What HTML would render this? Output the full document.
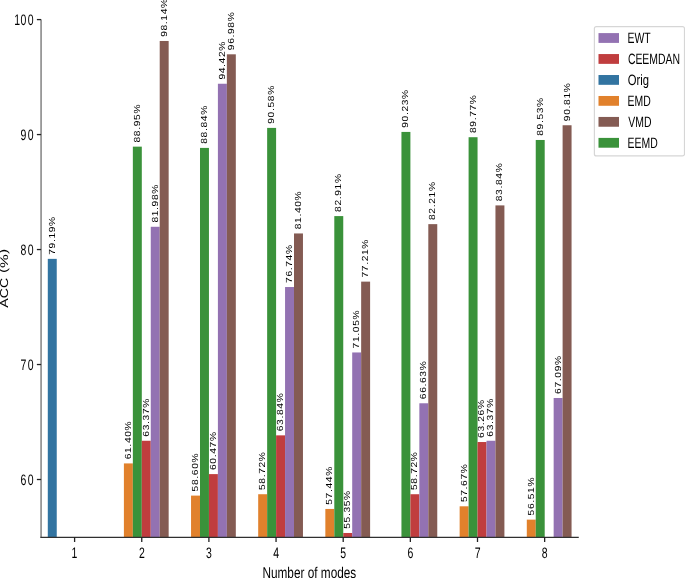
<!DOCTYPE html><html><head><meta charset="utf-8"><style>html,body{margin:0;padding:0;background:#fff;overflow:hidden}svg{display:block}text{font-family:"Liberation Sans",sans-serif;fill:#000;text-rendering:geometricPrecision}svg{will-change:transform}</style></head><body>
<svg width="685" height="578" viewBox="0 0 685 578">
<rect width="685" height="578" fill="#fff"/>
<rect x="47.79" y="258.863" width="8.953" height="278.137" fill="#3274a1"/>
<rect x="123.893" y="463.413" width="8.953" height="73.587" fill="#e1812c"/>
<rect x="132.847" y="146.643" width="8.953" height="390.357" fill="#3a923a"/>
<rect x="141.8" y="440.762" width="8.953" height="96.238" fill="#c03d3e"/>
<rect x="150.753" y="226.784" width="8.953" height="310.216" fill="#9372b2"/>
<rect x="159.707" y="40.976" width="8.953" height="496.024" fill="#845b53"/>
<rect x="191.043" y="495.607" width="8.953" height="41.393" fill="#e1812c"/>
<rect x="199.997" y="147.908" width="8.953" height="389.092" fill="#3a923a"/>
<rect x="208.95" y="474.106" width="8.953" height="62.894" fill="#c03d3e"/>
<rect x="217.903" y="83.749" width="8.953" height="453.251" fill="#9372b2"/>
<rect x="226.857" y="54.314" width="8.953" height="482.686" fill="#845b53"/>
<rect x="258.193" y="494.227" width="8.953" height="42.773" fill="#e1812c"/>
<rect x="267.147" y="127.901" width="8.953" height="409.099" fill="#3a923a"/>
<rect x="276.1" y="435.358" width="8.953" height="101.642" fill="#c03d3e"/>
<rect x="285.053" y="287.033" width="8.953" height="249.967" fill="#9372b2"/>
<rect x="294.007" y="233.453" width="8.953" height="303.547" fill="#845b53"/>
<rect x="325.343" y="508.945" width="8.953" height="28.055" fill="#e1812c"/>
<rect x="334.297" y="216.091" width="8.953" height="320.909" fill="#3a923a"/>
<rect x="343.25" y="532.976" width="8.953" height="4.024" fill="#c03d3e"/>
<rect x="352.203" y="352.457" width="8.953" height="184.543" fill="#9372b2"/>
<rect x="361.157" y="281.629" width="8.953" height="255.371" fill="#845b53"/>
<rect x="401.447" y="131.925" width="8.953" height="405.075" fill="#3a923a"/>
<rect x="410.4" y="494.227" width="8.953" height="42.773" fill="#c03d3e"/>
<rect x="419.353" y="403.278" width="8.953" height="133.722" fill="#9372b2"/>
<rect x="428.307" y="224.139" width="8.953" height="312.861" fill="#845b53"/>
<rect x="459.643" y="506.3" width="8.953" height="30.7" fill="#e1812c"/>
<rect x="468.597" y="137.215" width="8.953" height="399.785" fill="#3a923a"/>
<rect x="477.55" y="442.027" width="8.953" height="94.973" fill="#c03d3e"/>
<rect x="486.503" y="440.762" width="8.953" height="96.238" fill="#9372b2"/>
<rect x="495.457" y="205.398" width="8.953" height="331.602" fill="#845b53"/>
<rect x="526.793" y="519.638" width="8.953" height="17.362" fill="#e1812c"/>
<rect x="535.747" y="139.974" width="8.953" height="397.026" fill="#3a923a"/>
<rect x="553.653" y="397.989" width="8.953" height="139.011" fill="#9372b2"/>
<rect x="562.607" y="125.257" width="8.953" height="411.743" fill="#845b53"/>
<line x1="41.075" y1="19.59" x2="41.075" y2="537" stroke="#8a8a8a" stroke-width="1.6"/>
<line x1="40.275" y1="537.4" x2="578.775" y2="537.4" stroke="#303030" stroke-width="1.3"/>
<line x1="36.875" y1="479.51" x2="41.075" y2="479.51" stroke="#222" stroke-width="1.3"/>
<text transform="translate(20.525,484.739) scale(0.69,1)" font-size="15.2" letter-spacing="1.9">60</text>
<line x1="36.875" y1="364.53" x2="41.075" y2="364.53" stroke="#222" stroke-width="1.3"/>
<text transform="translate(20.525,369.759) scale(0.69,1)" font-size="15.2" letter-spacing="1.9">70</text>
<line x1="36.875" y1="249.55" x2="41.075" y2="249.55" stroke="#222" stroke-width="1.3"/>
<text transform="translate(20.525,254.779) scale(0.69,1)" font-size="15.2" letter-spacing="1.9">80</text>
<line x1="36.875" y1="134.57" x2="41.075" y2="134.57" stroke="#222" stroke-width="1.3"/>
<text transform="translate(20.525,139.799) scale(0.69,1)" font-size="15.2" letter-spacing="1.9">90</text>
<line x1="36.875" y1="19.59" x2="41.075" y2="19.59" stroke="#222" stroke-width="1.3"/>
<text transform="translate(13.383,24.819) scale(0.69,1)" font-size="15.2" letter-spacing="1.9"><tspan dx="1.2">1</tspan><tspan dx="-1.2">00</tspan></text>
<line x1="74.6" y1="537" x2="74.6" y2="542" stroke="#222" stroke-width="1.3"/>
<text transform="translate(71.588,557.6) scale(0.69,1)" font-size="15.2">1</text>
<line x1="141.75" y1="537" x2="141.75" y2="542" stroke="#222" stroke-width="1.3"/>
<text transform="translate(138.884,557.6) scale(0.69,1)" font-size="15.2">2</text>
<line x1="208.9" y1="537" x2="208.9" y2="542" stroke="#222" stroke-width="1.3"/>
<text transform="translate(206.061,557.6) scale(0.69,1)" font-size="15.2">3</text>
<line x1="276.05" y1="537" x2="276.05" y2="542" stroke="#222" stroke-width="1.3"/>
<text transform="translate(273.221,557.6) scale(0.69,1)" font-size="15.2">4</text>
<line x1="343.2" y1="537" x2="343.2" y2="542" stroke="#222" stroke-width="1.3"/>
<text transform="translate(340.34,557.6) scale(0.69,1)" font-size="15.2">5</text>
<line x1="410.35" y1="537" x2="410.35" y2="542" stroke="#222" stroke-width="1.3"/>
<text transform="translate(407.448,557.6) scale(0.69,1)" font-size="15.2">6</text>
<line x1="477.5" y1="537" x2="477.5" y2="542" stroke="#222" stroke-width="1.3"/>
<text transform="translate(474.629,557.6) scale(0.69,1)" font-size="15.2">7</text>
<line x1="544.65" y1="537" x2="544.65" y2="542" stroke="#222" stroke-width="1.3"/>
<text transform="translate(541.784,557.6) scale(0.69,1)" font-size="15.2">8</text>
<text transform="translate(262.46,577.6) scale(0.752,1)" font-size="15.7">Number of modes</text>
<text transform="translate(7.7,307.628) rotate(-90) scale(0.918,0.747)" font-size="15.4">ACC</text>
<text transform="translate(7.5,273.062) rotate(-90) scale(1.007,0.72)" font-size="15.4"><tspan dy="-0.9">(</tspan><tspan dy="0.9">%</tspan><tspan dy="-0.9">)</tspan></text>
<text transform="translate(54.738,254.784) rotate(-90) scale(1.16,1)" font-size="8.8" letter-spacing="0.58">79.19%</text>
<text transform="translate(130.841,459.323) rotate(-90) scale(1.16,1)" font-size="8.8" letter-spacing="0.58">61.40%</text>
<text transform="translate(139.795,142.482) rotate(-90) scale(1.16,1)" font-size="8.8" letter-spacing="0.58">88.95%</text>
<text transform="translate(148.748,436.672) rotate(-90) scale(1.16,1)" font-size="8.8" letter-spacing="0.58">63.37%</text>
<text transform="translate(157.701,222.623) rotate(-90) scale(1.16,1)" font-size="8.8" letter-spacing="0.58">81.98%</text>
<text transform="translate(166.655,36.846) rotate(-90) scale(1.16,1)" font-size="8.8" letter-spacing="0.58">98.14%</text>
<text transform="translate(197.991,491.416) rotate(-90) scale(1.16,1)" font-size="8.8" letter-spacing="0.58">58.60%</text>
<text transform="translate(206.945,143.747) rotate(-90) scale(1.16,1)" font-size="8.8" letter-spacing="0.58">88.84%</text>
<text transform="translate(215.898,470.016) rotate(-90) scale(1.16,1)" font-size="8.8" letter-spacing="0.58">60.47%</text>
<text transform="translate(224.851,79.618) rotate(-90) scale(1.16,1)" font-size="8.8" letter-spacing="0.58">94.42%</text>
<text transform="translate(233.805,50.184) rotate(-90) scale(1.16,1)" font-size="8.8" letter-spacing="0.58">96.98%</text>
<text transform="translate(265.141,490.036) rotate(-90) scale(1.16,1)" font-size="8.8" letter-spacing="0.58">58.72%</text>
<text transform="translate(274.095,123.771) rotate(-90) scale(1.16,1)" font-size="8.8" letter-spacing="0.58">90.58%</text>
<text transform="translate(283.048,431.268) rotate(-90) scale(1.16,1)" font-size="8.8" letter-spacing="0.58">63.84%</text>
<text transform="translate(292.001,282.954) rotate(-90) scale(1.16,1)" font-size="8.8" letter-spacing="0.58">76.74%</text>
<text transform="translate(300.955,229.292) rotate(-90) scale(1.16,1)" font-size="8.8" letter-spacing="0.58">81.40%</text>
<text transform="translate(332.274,504.753) rotate(-90) scale(1.16,1)" font-size="8.8" letter-spacing="0.58">57.44%</text>
<text transform="translate(341.245,211.93) rotate(-90) scale(1.16,1)" font-size="8.8" letter-spacing="0.58">82.91%</text>
<text transform="translate(350.198,528.784) rotate(-90) scale(1.16,1)" font-size="8.8" letter-spacing="0.58">55.35%</text>
<text transform="translate(359.151,348.378) rotate(-90) scale(1.16,1)" font-size="8.8" letter-spacing="0.58">71.05%</text>
<text transform="translate(368.105,277.55) rotate(-90) scale(1.16,1)" font-size="8.8" letter-spacing="0.58">77.21%</text>
<text transform="translate(408.395,127.795) rotate(-90) scale(1.16,1)" font-size="8.8" letter-spacing="0.58">90.23%</text>
<text transform="translate(417.348,490.036) rotate(-90) scale(1.16,1)" font-size="8.8" letter-spacing="0.58">58.72%</text>
<text transform="translate(426.301,399.189) rotate(-90) scale(1.16,1)" font-size="8.8" letter-spacing="0.58">66.63%</text>
<text transform="translate(435.255,219.978) rotate(-90) scale(1.16,1)" font-size="8.8" letter-spacing="0.58">82.21%</text>
<text transform="translate(466.591,502.109) rotate(-90) scale(1.16,1)" font-size="8.8" letter-spacing="0.58">57.67%</text>
<text transform="translate(475.545,133.053) rotate(-90) scale(1.16,1)" font-size="8.8" letter-spacing="0.58">89.77%</text>
<text transform="translate(484.498,437.937) rotate(-90) scale(1.16,1)" font-size="8.8" letter-spacing="0.58">63.26%</text>
<text transform="translate(493.451,436.672) rotate(-90) scale(1.16,1)" font-size="8.8" letter-spacing="0.58">63.37%</text>
<text transform="translate(502.405,201.237) rotate(-90) scale(1.16,1)" font-size="8.8" letter-spacing="0.58">83.84%</text>
<text transform="translate(533.741,515.446) rotate(-90) scale(1.16,1)" font-size="8.8" letter-spacing="0.58">56.51%</text>
<text transform="translate(542.695,135.813) rotate(-90) scale(1.16,1)" font-size="8.8" letter-spacing="0.58">89.53%</text>
<text transform="translate(560.601,393.9) rotate(-90) scale(1.16,1)" font-size="8.8" letter-spacing="0.58">67.09%</text>
<text transform="translate(569.555,121.126) rotate(-90) scale(1.16,1)" font-size="8.8" letter-spacing="0.58">90.81%</text>
<rect x="594.4" y="26.6" width="90.1" height="129.3" rx="2" ry="2" fill="#fff" stroke="#d6d6d6" stroke-width="1.2"/>
<rect x="598.5" y="33.1" width="20.5" height="9.8" fill="#9372b2"/>
<text transform="translate(627.545,43) scale(0.695,1)" font-size="15">EWT</text>
<rect x="598.5" y="54.06" width="20.5" height="9.8" fill="#c03d3e"/>
<text transform="translate(627.879,63.96) scale(0.695,1)" font-size="15">CEEMDAN</text>
<rect x="598.5" y="75.02" width="20.5" height="9.8" fill="#3274a1"/>
<text transform="translate(627.871,84.92) scale(0.75,1)" font-size="15">Orig</text>
<rect x="598.5" y="95.98" width="20.5" height="9.8" fill="#e1812c"/>
<text transform="translate(627.545,105.88) scale(0.695,1)" font-size="15">EMD</text>
<rect x="598.5" y="116.94" width="20.5" height="9.8" fill="#845b53"/>
<text transform="translate(628.358,126.84) scale(0.695,1)" font-size="15">VMD</text>
<rect x="598.5" y="137.9" width="20.5" height="9.8" fill="#3a923a"/>
<text transform="translate(627.545,147.8) scale(0.695,1)" font-size="15">EEMD</text>
</svg></body></html>
